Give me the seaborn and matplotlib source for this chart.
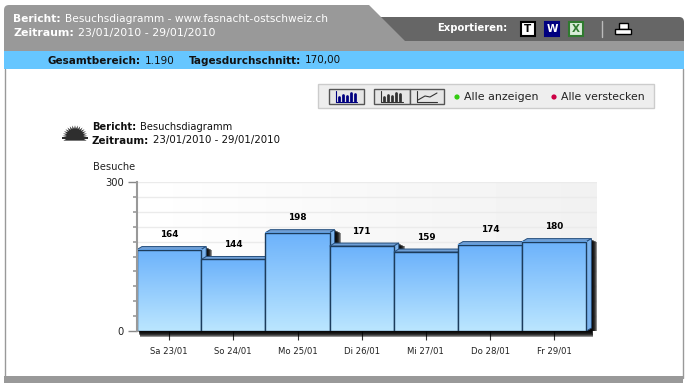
import numpy as np
import pandas as pd
import seaborn as sns
import matplotlib.pyplot as plt
from matplotlib.patches import Polygon, Rectangle, FancyBboxPatch, Circle

days = ['Sa 23/01', 'So 24/01', 'Mo 25/01', 'Di 26/01', 'Mi 27/01', 'Do 28/01', 'Fr 29/01']
visits = [164, 144, 198, 171, 159, 174, 180]
y_labels = [0, 300]
minor_ticks = [30, 60, 90, 120, 150, 180, 210, 240, 270]

header_report = 'Besuchsdiagramm - www.fasnacht-ostschweiz.ch'
period = '23/01/2010 - 29/01/2010'
total = '1.190'
average = '170,00'

sns.set_theme(style='white')
plt.rcParams['font.family'] = ['DejaVu Sans']

W, H = 688, 388
fig = plt.figure(figsize=(W / 100, H / 100), dpi=100)
fig.patch.set_facecolor('white')

# page furniture, in pixels
bg = fig.add_axes([0, 0, 1, 1], zorder=0)
bg.set_xlim(0, W)
bg.set_ylim(H, 0)
bg.axis('off')

bg.add_patch(FancyBboxPatch((370, 17), 314, 40, boxstyle='round,pad=0,rounding_size=5', fc='#666666', ec='none'))
bg.add_patch(FancyBboxPatch((4, 5), 360, 50, boxstyle='round,pad=0,rounding_size=5', fc='#999999', ec='none'))
bg.add_patch(Polygon([[355, 5], [369, 5], [405, 41], [405, 50], [355, 50]], fc='#999999', ec='none'))
bg.add_patch(Rectangle((4, 41), 680, 11, fc='#999999', ec='none'))
bg.add_patch(Rectangle((4, 51), 680, 18, fc='#66c6ff', ec='none'))
bg.plot([4.5, 4.5], [69, 378], color='#999999', lw=1)
bg.plot([682.5, 682.5], [69, 378], color='#999999', lw=1)
bg.add_patch(Rectangle((4, 376), 679, 7, fc='#999999', ec='none'))


def label(x, y, bold, plain, color, size):
    t = bg.text(x, y, bold, color=color, fontsize=size, fontweight='bold', va='center')
    fig.canvas.draw()
    box = t.get_window_extent().transformed(bg.transData.inverted())
    bg.text(box.x1 + 4, y, plain, color=color, fontsize=size, va='center')


label(13, 19.5, 'Bericht:', header_report, '#ffffff', 7.7)
label(13, 33, 'Zeitraum:', period, '#ffffff', 7.9)
label(48, 60.5, 'Gesamtbereich:', total, '#111111', 7.5)
label(189, 60.5, 'Tagesdurchschnitt:', average, '#111111', 7.5)
bg.text(437, 28, 'Exportieren:', color='white', fontsize=7.2, fontweight='bold', va='center')
label(92, 127, 'Bericht:', 'Besuchsdiagramm', '#111111', 7.1)
label(92, 140.5, 'Zeitraum:', period, '#111111', 7.4)

# export icons
for x, fc, ec, txt in [(521, 'white', 'black', 'T'), (545, '#000080', '#000080', 'W'), (569, '#d8ecd8', '#2f7a2f', 'X')]:
    bg.add_patch(Rectangle((x, 22), 14, 14, fc=fc, ec=ec, lw=1.5))
    bg.text(x + 7, 29.5, txt, color={'T': 'black', 'W': 'white', 'X': '#2f7a2f'}[txt],
            fontsize=7.5, fontweight='bold', ha='center', va='center')
bg.plot([601.5, 601.5], [21, 37], color='#bbbbbb', lw=1)
bg.add_patch(Rectangle((619, 23), 9, 6, fc='white', ec='black', lw=1))
bg.add_patch(Rectangle((615, 29), 16, 5, fc='white', ec='black', lw=1))

# toolbar
bg.add_patch(Rectangle((318, 84), 336, 24, fc='#eeeeee', ec='#cccccc', lw=1))
for x0, x1, col, line in [(329, 364, '#000080', False), (374, 410, '#333333', False), (410, 444, '#333333', True)]:
    bg.add_patch(Rectangle((x0, 89), x1 - x0, 15, fc='#e6e6e6', ec='#555555', lw=1))
    bg.plot([x0 + 7, x0 + 7, x1 - 7], [91, 101.5, 101.5], color=col, lw=0.8)
    if line:
        bg.plot([x0 + 8, x0 + 15, x0 + 20, x1 - 7], [100, 96, 97, 93], color=col, lw=0.8)
    else:
        for i, h in enumerate([4, 6, 5, 8, 7]):
            bg.plot([x0 + 10 + i * 4] * 2, [101, 101 - h], color=col, lw=2)
bg.add_patch(Circle((457, 97), 2.6, fc='#33cc11', ec='none'))
bg.add_patch(Circle((554, 97), 2.6, fc='#cc0044', ec='none'))
bg.text(464, 97, 'Alle anzeigen', color='#222222', fontsize=7.9, va='center')
bg.text(561, 97, 'Alle verstecken', color='#222222', fontsize=7.8, va='center')

# sun icon next to the report title
angles = np.linspace(-0.12 * np.pi, 1.12 * np.pi, 37)
radii = np.where(np.arange(37) % 2 == 0, 12.5, 8.5)
bg.add_patch(Polygon(np.c_[75 + radii * np.cos(angles), 136.5 - 0.9 * radii * np.sin(angles)],
                     fc='#2e2e2e', ec='none'))
bg.add_patch(Rectangle((62, 137), 26, 2, fc='#2e2e2e', ec='none'))

# chart, 64.2 px per category and 149 px for 300 visits
px_left, px_right, px_top, px_bottom = 137, 597, 182, 331
ax = fig.add_axes([px_left / W, 1 - px_bottom / H, (px_right - px_left) / W, (px_bottom - px_top) / H], zorder=1)
ax.patch.set_alpha(0)
df = pd.DataFrame({'day': days, 'visits': visits})
sns.barplot(data=df, x='day', y='visits', width=1, fill=False, color='#1c3c5c', linewidth=1, ax=ax)

xlim = (-0.5, -0.5 + (px_right - px_left) / 64.2)
ylim = (0, 300)
dx = 1 / 64.2
dy = 300 / 149

# panel gradient and grid behind the bars
panel = np.linspace(1, 0.945, 64).reshape(1, -1)
ax.imshow(panel, extent=(*xlim, *ylim), aspect='auto', cmap='gray', vmin=0, vmax=1, zorder=0.1)
for v in minor_ticks + y_labels[1:]:
    ax.axhline(v, color='#ebebeb', lw=1, zorder=0.2)

grad = np.linspace(0, 1, 128).reshape(-1, 1, 1) * np.array([0x6c, 0xb2, 0xfb]).reshape(1, 1, 3) / 255 \
    + np.linspace(1, 0, 128).reshape(-1, 1, 1) * np.array([0xbb, 0xe6, 0xff]).reshape(1, 1, 3) / 255
grad = grad[::-1]

# one shadow along the floor of the whole row
first, last = ax.patches[0], ax.patches[len(visits) - 1]
for k in range(1, 7):
    ax.add_patch(Rectangle((first.get_x() + (1 + k * 0.3) * dx, -k * dy),
                           last.get_x() + last.get_width() - first.get_x() + 4 * dx, k * dy,
                           fc='black', ec='none', alpha=0.42, zorder=1.5, clip_on=False))

for i, (bar, v) in enumerate(zip(ax.patches, visits)):
    x0, x1 = bar.get_x(), bar.get_x() + bar.get_width()
    z = 2 + i
    # side shadow, the next bar hides most of it
    for k in range(1, 7):
        ax.add_patch(Rectangle((x1, 0), (5 + k) * dx, v + (3 - k * 0.5) * dy,
                               fc='black', ec='none', alpha=0.42, zorder=z, clip_on=False))
    ax.add_patch(Polygon([[x0, v], [x0 + 5 * dx, v + 3 * dy], [x1 + 5 * dx, v + 3 * dy], [x1, v]],
                         fc='#6f9fd6', ec='#27507e', lw=0.7, zorder=z + 0.1))
    ax.add_patch(Polygon([[x1, v], [x1 + 5 * dx, v + 3 * dy], [x1 + 5 * dx, 3 * dy], [x1, 0]],
                         fc='#7cb4ee', ec='#27507e', lw=0.7, zorder=z + 0.1))
    ax.imshow(grad, extent=(x0, x1, 0, v), aspect='auto', zorder=z + 0.2)
    bar.set_zorder(z + 0.3)
    ax.text(bar.get_x() + bar.get_width() / 2, v + 15 * dy, str(v), ha='center', va='center',
            fontsize=6.4, fontweight='bold', color='black', zorder=20)

ax.set_xlim(*xlim)
ax.set_ylim(*ylim)
ax.set_xlabel('')
ax.set_ylabel('')
for s in ['top', 'right', 'bottom']:
    ax.spines[s].set_visible(False)
ax.spines['left'].set_color('#999999')
ax.spines['left'].set_linewidth(1.5)
ax.spines['left'].set_zorder(30)

ax.set_yticks(y_labels)
ax.set_yticklabels([str(v) for v in y_labels], fontsize=7.2, color='#222222')
ax.set_yticks(minor_ticks, minor=True)
ax.tick_params(axis='y', which='major', left=True, length=6.5, width=1, color='#888888', pad=3)
ax.tick_params(axis='y', which='minor', left=True, length=3, width=1.2, color='#999999')
ax.set_xticks(range(len(days)))
ax.set_xticklabels(days, fontsize=6.1, color='#222222')
ax.tick_params(axis='x', bottom=True, length=6.5, width=0.8, color='#333333', pad=4.5)

bg.text(93, 167, 'Besuche', color='#222222', fontsize=7.1, va='center')

fig.savefig('out.png', dpi=100)
